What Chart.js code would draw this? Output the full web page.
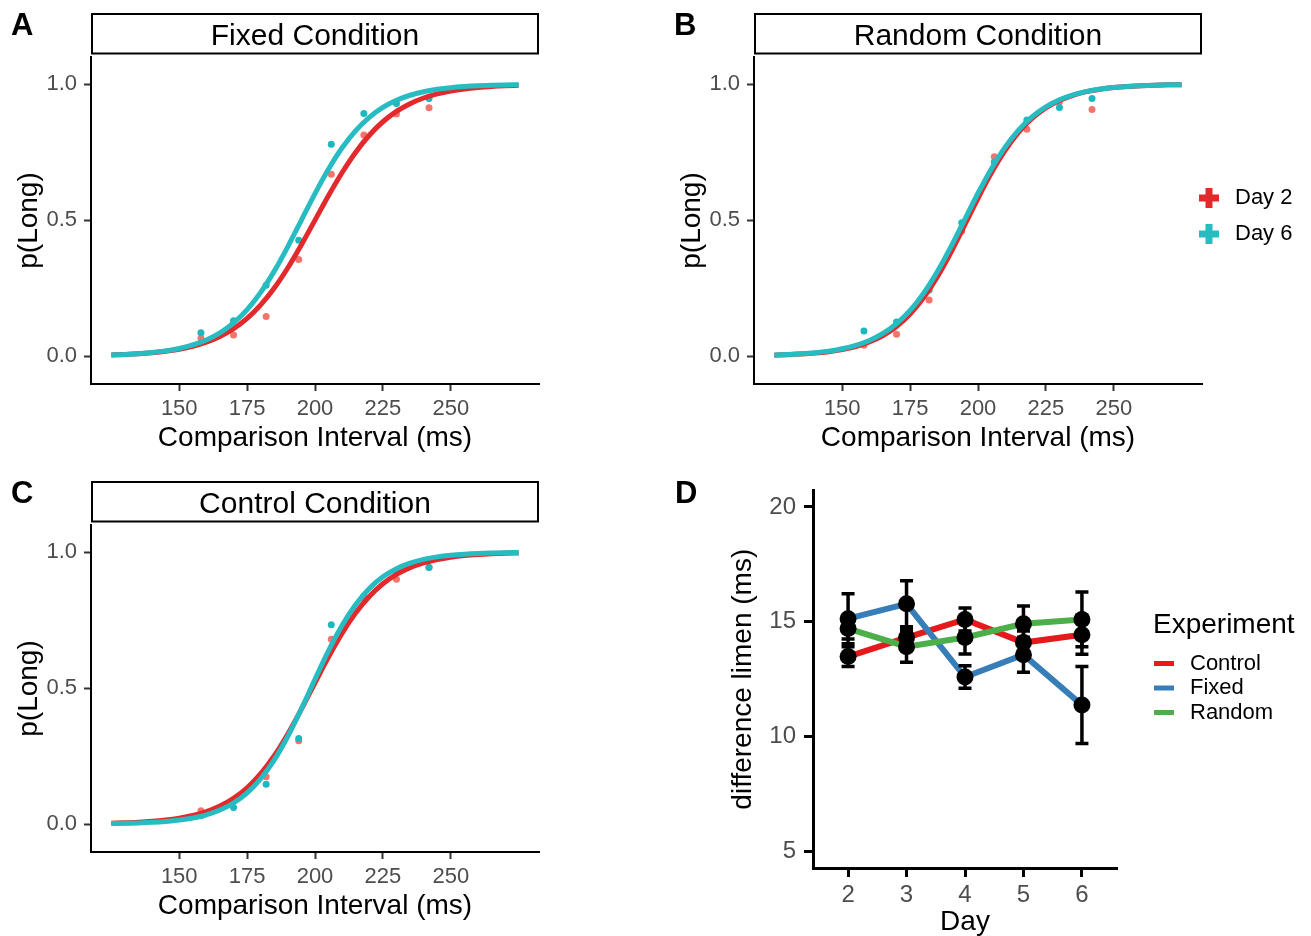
<!DOCTYPE html>
<html>
<head>
<meta charset="utf-8">
<script src="https://cdn.jsdelivr.net/npm/chart.js@4.4.1/dist/chart.umd.min.js"></script>
<style>
  html, body { margin: 0; padding: 0; background: #fff; }
  #page { position: relative; width: 1311px; height: 936px; }
  canvas { position: absolute; }
</style>
</head>
<body>
<div id="page">
  <canvas id="fixedChart" width="655" height="468" style="left:0;top:0"></canvas>
  <canvas id="randomChart" width="656" height="468" style="left:655px;top:0"></canvas>
  <canvas id="controlChart" width="655" height="468" style="left:0;top:468px"></canvas>
  <canvas id="dlChart" width="656" height="468" style="left:655px;top:468px"></canvas>
</div>
<script>
const FONT = '"Liberation Sans", Arial, Helvetica, sans-serif';
const RED = '#E2292B';
const CYAN = '#27BBC2';
const RED_PT = '#F2756D';
const CYAN_PT = '#1FB7BF';

// comparison intervals shown in the task (ms)
const intervals = [158, 170, 182, 194, 206, 218, 230, 242];
const msTicks = [150, 175, 200, 225, 250];
const pTicks = [0, 0.5, 1.0];

// observed p(Long) per interval
const fixedDay2 = [0.065, 0.077, 0.145, 0.355, 0.669, 0.813, 0.89, 0.913];
const fixedDay6 = [0.086, 0.13, 0.26, 0.426, 0.779, 0.892, 0.929, 0.947];
const randomDay2 = [0.04, 0.08, 0.206, 0.46, 0.733, 0.834, 0.935, 0.907];
const randomDay6 = [0.092, 0.125, 0.243, 0.49, 0.714, 0.868, 0.914, 0.947];
const controlDay2 = [0.049, 0.085, 0.174, 0.306, 0.68, 0.83, 0.90, 0.945];
const controlDay6 = [0.03, 0.061, 0.146, 0.315, 0.733, 0.839, 0.93, 0.944];

// fitted psychometric curves, read every 5 ms
const curveX = [125, 130, 135, 140, 145, 150, 155, 160, 165, 170, 175, 180, 185, 190, 195, 200,
                205, 210, 215, 220, 225, 230, 235, 240, 245, 250, 255, 260, 265, 270, 275];
const fixedFit2 = [0.0041, 0.0059, 0.0085, 0.0122, 0.0175, 0.0251, 0.0358, 0.0508, 0.0716, 0.1001,
                   0.1382, 0.1879, 0.2501, 0.3248, 0.4095, 0.5, 0.5905, 0.6752, 0.7499, 0.8121,
                   0.8618, 0.8999, 0.9284, 0.9492, 0.9642, 0.9749, 0.9825, 0.9878, 0.9915, 0.9941, 0.9959];
const fixedFit6 = [0.0040, 0.0058, 0.0087, 0.0128, 0.0189, 0.0278, 0.0407, 0.0592, 0.0855, 0.1218,
                   0.1708, 0.2341, 0.3122, 0.4026, 0.5, 0.5974, 0.6878, 0.7659, 0.8292, 0.8782,
                   0.9145, 0.9408, 0.9593, 0.9722, 0.9811, 0.9872, 0.9913, 0.9942, 0.9960, 0.9973, 0.9982];
const randomFit2 = [0.0032, 0.0047, 0.0071, 0.0106, 0.0158, 0.0235, 0.0349, 0.0514, 0.0751, 0.1085,
                    0.1543, 0.2148, 0.2909, 0.3808, 0.4798, 0.5803, 0.6746, 0.7566, 0.8233, 0.8748,
                    0.9128, 0.9401, 0.9592, 0.9724, 0.9815, 0.9876, 0.9917, 0.9944, 0.9963, 0.9975, 0.9983];
const randomFit6 = [0.0037, 0.0055, 0.0082, 0.0121, 0.0180, 0.0266, 0.0392, 0.0573, 0.0832, 0.1192,
                    0.1680, 0.2315, 0.3100, 0.4013, 0.5, 0.5987, 0.6900, 0.7685, 0.8320, 0.8808,
                    0.9168, 0.9427, 0.9608, 0.9734, 0.9820, 0.9879, 0.9918, 0.9945, 0.9963, 0.9975, 0.9983];
const controlFit2 = [0.0031, 0.0046, 0.0067, 0.0099, 0.0146, 0.0214, 0.0313, 0.0455, 0.0659, 0.0943,
                     0.1333, 0.1851, 0.2513, 0.3314, 0.4226, 0.5195, 0.6149, 0.7022, 0.7769, 0.8372,
                     0.8837, 0.9182, 0.9431, 0.9608, 0.9731, 0.9816, 0.9875, 0.9915, 0.9942, 0.9961, 0.9973];
const controlFit6 = [0.0017, 0.0026, 0.0040, 0.0061, 0.0094, 0.0145, 0.0222, 0.0339, 0.0514, 0.0773,
                     0.1146, 0.1666, 0.2360, 0.3230, 0.4243, 0.5326, 0.6377, 0.7311, 0.8077, 0.8666,
                     0.9093, 0.9394, 0.9599, 0.9737, 0.9828, 0.9888, 0.9927, 0.9953, 0.9969, 0.9980, 0.9987];

// difference limen by day (mean and standard error)
const days = [2, 3, 4, 5, 6];
const dlTicks = [5, 10, 15, 20];
const experiments = ['Control', 'Fixed', 'Random'];
const expColors = ['#E41A1C', '#377EB8', '#4DAF4A'];
const controlDL = [13.48, 14.31, 15.10, 14.09, 14.43];
const controlSE = [0.43, 0.40, 0.50, 0.50, 0.85];
const fixedDL = [15.13, 15.78, 12.59, 13.56, 11.37];
const fixedSE = [1.09, 1.00, 0.49, 0.76, 1.68];
const randomDL = [14.70, 13.91, 14.31, 14.91, 15.10];
const randomSE = [0.45, 0.68, 0.72, 0.77, 1.19];

Chart.defaults.font.family = FONT;
Chart.defaults.color = '#000';

const xy = (xs, ys) => xs.map((x, i) => ({ x: x, y: ys[i] }));

// panel letter + facet strip
const panelDecor = {
    id: 'panelDecor',
    afterDraw(chart, args, o) {
        const ctx = chart.ctx, a = chart.chartArea;
        ctx.save();
        ctx.fillStyle = '#000';
        ctx.font = 'bold 31px ' + FONT;
        ctx.textAlign = 'left';
        ctx.textBaseline = 'alphabetic';
        ctx.fillText(o.letter, o.letterX, 35);
        if (o.strip) {
            const h = a.top - 17.5;
            ctx.fillStyle = '#fff';
            ctx.fillRect(a.left + 1, 14, a.right - a.left - 2, h);
            ctx.strokeStyle = '#000';
            ctx.lineWidth = 2;
            ctx.strokeRect(a.left + 1, 14, a.right - a.left - 2, h);
            ctx.fillStyle = '#000';
            ctx.font = '30px ' + FONT;
            ctx.textAlign = 'center';
            ctx.fillText(o.strip, (a.left + a.right) / 2, 45);
        }
        ctx.restore();
    }
};

// legend drawn at a fixed spot beside the panel
const keyLegend = {
    id: 'keyLegend',
    afterDraw(chart, args, o) {
        if (!o.items) return;
        const ctx = chart.ctx;
        ctx.save();
        if (o.title) {
            ctx.fillStyle = '#000';
            ctx.font = '28px ' + FONT;
            ctx.textBaseline = 'alphabetic';
            ctx.fillText(o.title, o.titleX, o.titleY);
        }
        o.items.forEach((it, i) => {
            const y = o.y + i * o.step;
            ctx.strokeStyle = it.color;
            ctx.beginPath();
            if (o.key === 'plus') {
                ctx.lineWidth = 7;
                ctx.moveTo(o.x - 10, y); ctx.lineTo(o.x + 10, y);
                ctx.moveTo(o.x, y - 10); ctx.lineTo(o.x, y + 10);
            } else {
                ctx.lineWidth = 5;
                ctx.moveTo(o.x, y); ctx.lineTo(o.x + 20, y);
            }
            ctx.stroke();
            ctx.fillStyle = '#000';
            ctx.font = '22px ' + FONT;
            ctx.textBaseline = 'middle';
            ctx.fillText(it.label, o.textX, y);
        });
        ctx.restore();
    }
};

// mean +/- se bars, drawn just under the black points
const errorBars = {
    id: 'errorBars',
    beforeDatasetDraw(chart, args, o) {
        if (args.index !== 0 || !o.groups) return;
        const ctx = chart.ctx, xs = chart.scales.x, ys = chart.scales.y;
        ctx.save();
        ctx.strokeStyle = '#000';
        ctx.lineWidth = 3.5;
        o.groups.forEach(g => {
            g.means.forEach((m, i) => {
                const px = xs.getPixelForValue(o.x[i]);
                const top = ys.getPixelForValue(m + g.se[i]);
                const bot = ys.getPixelForValue(m - g.se[i]);
                ctx.beginPath();
                ctx.moveTo(px, top); ctx.lineTo(px, bot);
                ctx.moveTo(px - 6.5, top); ctx.lineTo(px + 6.5, top);
                ctx.moveTo(px - 6.5, bot); ctx.lineTo(px + 6.5, bot);
                ctx.stroke();
            });
        });
        ctx.restore();
    }
};

function axisStyle(extra) {
    return Object.assign({
        grid: { display: true, drawOnChartArea: false, drawTicks: true, tickLength: 7, tickWidth: 2, tickColor: '#333' },
        border: { display: true, color: '#000', width: 2 }
    }, extra);
}

function psychChart(id, strip, letter, letterX, padLeft, padRight, day2Pts, day6Pts, fit2, fit6, legend) {
    return new Chart(document.getElementById(id), {
        type: 'line',
        data: {
            datasets: [
                { label: 'Day 6', data: xy(curveX, fit6), borderColor: CYAN, borderWidth: 5, pointRadius: 0, cubicInterpolationMode: 'monotone' },
                { label: 'Day 2', data: xy(curveX, fit2), borderColor: RED, borderWidth: 5, pointRadius: 0, cubicInterpolationMode: 'monotone' },
                { label: 'Day 6 obs', data: xy(intervals, day6Pts), showLine: false, pointRadius: 3.5, pointBorderWidth: 0, backgroundColor: CYAN_PT },
                { label: 'Day 2 obs', data: xy(intervals, day2Pts), showLine: false, pointRadius: 3.5, pointBorderWidth: 0, backgroundColor: RED_PT }
            ]
        },
        options: {
            responsive: false,
            animation: false,
            devicePixelRatio: 1,
            layout: { padding: { left: padLeft, top: 57, right: padRight, bottom: 0 } },
            plugins: {
                legend: { display: false },
                tooltip: { enabled: false },
                panelDecor: { letter: letter, letterX: letterX, strip: strip },
                keyLegend: legend || {}
            },
            scales: {
                x: axisStyle({
                    type: 'linear', min: 117.5, max: 282.5,
                    afterBuildTicks: s => { s.ticks = msTicks.map(v => ({ value: v })); },
                    afterFit: s => { s.height = 84; },
                    ticks: { color: '#4D4D4D', font: { size: 22 }, padding: 5 },
                    title: { display: true, text: 'Comparison Interval (ms)', color: '#000', font: { size: 28, lineHeight: 1 }, padding: { top: 0, bottom: 16 } }
                }),
                y: axisStyle({
                    type: 'linear', min: -0.103, max: 1.1,
                    afterBuildTicks: s => { s.ticks = pTicks.map(v => ({ value: v })); },
                    afterFit: s => { s.width = 91; },
                    ticks: { color: '#4D4D4D', font: { size: 22 }, padding: 7, callback: v => v.toFixed(1) },
                    title: { display: true, text: 'p(Long)', color: '#000', font: { size: 28, lineHeight: 1 }, padding: { top: 15, bottom: 0 } }
                })
            }
        },
        plugins: [panelDecor, keyLegend]
    });
}

psychChart('fixedChart', 'Fixed Condition', 'A', 11, 0, 116, fixedDay2, fixedDay6, fixedFit2, fixedFit6);
psychChart('randomChart', 'Random Condition', 'B', 19, 8, 109, randomDay2, randomDay6, randomFit2, randomFit6, {
    key: 'plus', x: 554, textX: 580, y: 198, step: 36,
    items: [{ label: 'Day 2', color: RED }, { label: 'Day 6', color: CYAN }]
});
psychChart('controlChart', 'Control Condition', 'C', 11, 0, 116, controlDay2, controlDay6, controlFit2, controlFit6);

const dlMeans = [controlDL, fixedDL, randomDL];
const dlSEs = [controlSE, fixedSE, randomSE];
const dlPoints = [];
dlMeans.forEach(m => m.forEach((v, i) => dlPoints.push({ x: days[i], y: v })));

new Chart(document.getElementById('dlChart'), {
    type: 'line',
    data: {
        datasets: [
            { label: 'means', data: dlPoints, showLine: false, pointRadius: 8.5, pointBorderWidth: 0, backgroundColor: '#000' },
            { label: experiments[2], data: xy(days, randomDL), borderColor: expColors[2], borderWidth: 6, pointRadius: 0, tension: 0 },
            { label: experiments[1], data: xy(days, fixedDL), borderColor: expColors[1], borderWidth: 6, pointRadius: 0, tension: 0 },
            { label: experiments[0], data: xy(days, controlDL), borderColor: expColors[0], borderWidth: 6, pointRadius: 0, tension: 0 }
        ]
    },
    options: {
        responsive: false,
        animation: false,
        devicePixelRatio: 1,
        layout: { padding: { left: 0, top: 19, right: 194, bottom: 0 } },
        plugins: {
            legend: { display: false },
            tooltip: { enabled: false },
            panelDecor: { letter: 'D', letterX: 20 },
            errorBars: { x: days, groups: dlMeans.map((m, i) => ({ means: m, se: dlSEs[i] })) },
            keyLegend: {
                key: 'line', title: 'Experiment', titleX: 498, titleY: 165,
                x: 499, textX: 535, y: 195.5, step: 24.5,
                items: experiments.map((e, i) => ({ label: e, color: expColors[i] }))
            }
        },
        scales: {
            x: {
                type: 'linear', min: 1.4, max: 6.6,
                afterBuildTicks: s => { s.ticks = days.map(v => ({ value: v })); },
                afterFit: s => { s.height = 68; },
                grid: { display: true, drawOnChartArea: false, drawTicks: true, tickLength: 9, tickWidth: 3, tickColor: '#000' },
                border: { display: true, color: '#000', width: 3 },
                ticks: { color: '#4D4D4D', font: { size: 24 }, padding: 4 },
                title: { display: true, text: 'Day', color: '#000', font: { size: 28, lineHeight: 1 }, padding: { top: 0, bottom: 0 } }
            },
            y: {
                type: 'linear', min: 4.27, max: 20.72,
                afterBuildTicks: s => { s.ticks = dlTicks.map(v => ({ value: v })); },
                afterFit: s => { s.width = 158; },
                grid: { display: true, drawOnChartArea: false, drawTicks: true, tickLength: 9, tickWidth: 3, tickColor: '#000' },
                border: { display: true, color: '#000', width: 3 },
                ticks: { color: '#4D4D4D', font: { size: 24 }, padding: 8 },
                title: { display: true, text: 'difference limen (ms)', color: '#000', font: { size: 28, lineHeight: 1 }, padding: { top: 74, bottom: 0 } }
            }
        }
    },
    plugins: [panelDecor, keyLegend, errorBars]
});
</script>
</body>
</html>
